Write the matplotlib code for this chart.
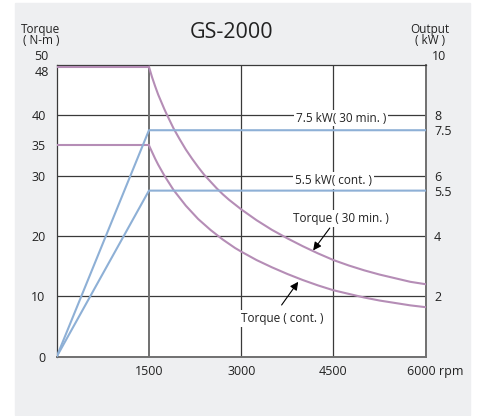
import matplotlib.pyplot as plt
import matplotlib.transforms as mtransforms
from matplotlib.patches import Rectangle

plt.rcParams["font.family"] = ["Open Sans", "DejaVu Sans"]

# Speed / torque / output data for the GS-2000 spindle
rpm_flat = [0, 1500]
torque_30min_flat = [48, 48]
torque_cont_flat = [35, 35]

rpm_curve = [1500, 1550, 1600, 1650, 1700, 1750, 1800, 1900, 2000, 2100, 2200, 2300,
             2400, 2500, 2600, 2700, 2800, 2900, 3000, 3250, 3500, 3750, 4000, 4250,
             4500, 4750, 5000, 5250, 5500, 5750, 6000]
torque_30min_curve = [48.0, 46.3, 44.8, 43.4, 42.2, 41.0, 39.9, 37.8, 36.0, 34.3, 32.8, 31.4,
                      30.1, 29.0, 27.9, 26.9, 26.0, 25.2, 24.4, 22.6, 21.0, 19.6, 18.3, 17.1,
                      16.0, 15.1, 14.3, 13.6, 13.0, 12.4, 12.0]
torque_cont_curve = [35.0, 33.9, 32.8, 31.8, 30.9, 30.0, 29.2, 27.6, 26.3, 25.0, 23.9, 22.8,
                     21.9, 21.0, 20.2, 19.4, 18.7, 18.0, 17.4, 16.0, 14.8, 13.7, 12.7, 11.8,
                     11.0, 10.4, 9.8, 9.3, 8.9, 8.5, 8.2]

rpm_output = [0, 1500, 6000]
output_30min = [0, 7.5, 7.5]
output_cont = [0, 5.5, 5.5]

x_ticks = [1500, 3000, 4500, 6000]
torque_ticks = [0, 10, 20, 30, 35, 40]
output_ticks = [2, 4, 5.5, 6, 7.5, 8]
torque_grid = [10, 20, 30, 40]
rpm_grid = [3000, 4500]

PURPLE = "#b58db6"
BLUE = "#8eb0d6"
DARK = "#3a3a3a"
GRAY = "#707070"
INK = "#222222"
TORQUE_TOP = 48.3

fig = plt.figure(figsize=(4.83, 4.16), dpi=100)
fig.patches.append(Rectangle((15 / 483, 1 / 416), 455 / 483, 412 / 416,
                             transform=fig.transFigure, color="#eeeff1", zorder=-1))

ax = fig.add_axes([56.7 / 483, 59.3 / 416, 369 / 483, 291.7 / 416])
ax.set_facecolor("white")
ax.set_xlim(0, 6000)
ax.set_ylim(0, TORQUE_TOP)

for y in torque_grid:
    ax.axhline(y, color=DARK, lw=0.9, zorder=1)
for x in rpm_grid:
    ax.axvline(x, color=DARK, lw=0.9, zorder=1)
ax.axvline(1500, color=GRAY, lw=1.4, zorder=1)

for side in ("left", "top"):
    ax.spines[side].set_color(DARK)
    ax.spines[side].set_linewidth(0.9)
for side in ("right", "bottom"):
    ax.spines[side].set_color(GRAY)
    ax.spines[side].set_linewidth(1.4)

ax.plot(rpm_flat, torque_30min_flat, color=PURPLE, lw=1.5, zorder=3)
ax.plot(rpm_flat, torque_cont_flat, color=PURPLE, lw=1.5, zorder=3)
ax.plot(rpm_curve, torque_30min_curve, color=PURPLE, lw=1.5, zorder=3)
ax.plot(rpm_curve, torque_cont_curve, color=PURPLE, lw=1.5, zorder=3)

ax.set_xticks(x_ticks)
ax.set_xticklabels([str(v) for v in x_ticks[:-1]] + ["6000 rpm"])
ax.set_yticks(torque_ticks)
ax.set_yticklabels([str(v) for v in torque_ticks])
ax.tick_params(axis="both", length=0, labelsize=9, colors=INK)
ax.tick_params(axis="x", pad=6)
ax.tick_params(axis="y", pad=8)

# "6000" sits on its gridline, the unit hangs to the right
last = ax.get_xticklabels()[-1]
last.set_horizontalalignment("left")
last.set_transform(last.get_transform()
                   + mtransforms.ScaledTranslation(-0.19, 0, fig.dpi_scale_trans))

# labels crowded at the top of the left scale
ax.annotate("48", xy=(0, 48), xycoords=("axes fraction", "data"), xytext=(-8, -6),
            textcoords="offset pixels", ha="right", va="center", fontsize=9, color=INK)
ax.annotate("50", xy=(0, 1), xycoords="axes fraction", xytext=(-8, 8),
            textcoords="offset pixels", ha="right", va="center", fontsize=9, color=INK)

ax2 = ax.twinx()
ax2.set_ylim(0, TORQUE_TOP / 5)
ax2.plot(rpm_output, output_30min, color=BLUE, lw=1.5, zorder=3)
ax2.plot(rpm_output, output_cont, color=BLUE, lw=1.5, zorder=3)
ax2.set_yticks(output_ticks)
ax2.set_yticklabels([f"{v:g}" for v in output_ticks])
ax2.tick_params(axis="y", length=0, labelsize=9, colors=INK, pad=6)
for side in ("left", "top", "right", "bottom"):
    ax2.spines[side].set_visible(False)
ax2.annotate("10", xy=(1, 1), xycoords="axes fraction", xytext=(6, 8),
             textcoords="offset pixels", ha="left", va="center", fontsize=9, color=INK)

box = dict(boxstyle="square,pad=0.15", fc="white", ec="none")
ax2.text(4630, 7.9, "7.5 kW( 30 min. )", ha="center", va="center", fontsize=8.5,
         color=INK, bbox=box, zorder=5)
ax2.text(4500, 5.83, "5.5 kW( cont. )", ha="center", va="center", fontsize=8.5,
         color=INK, bbox=box, zorder=5)

ax2.text(4616, 22.9 / 5, "Torque ( 30 min. )", ha="center", va="center", fontsize=8.5,
         color=INK, bbox=box, zorder=5)
ax2.text(3662, 6.36 / 5, "Torque ( cont. )", ha="center", va="center", fontsize=8.5,
         color=INK, bbox=box, zorder=5)
arrow = dict(arrowstyle="-|>", color="black", lw=0.8, mutation_scale=12,
             shrinkA=0, shrinkB=0)
ax2.annotate("", xy=(4170, 17.6 / 5), xytext=(4440, 21.3 / 5), arrowprops=arrow, zorder=6)
ax2.annotate("", xy=(3927, 12.4 / 5), xytext=(3657, 8.56 / 5), arrowprops=arrow, zorder=6)

fig.text(232 / 483, 1 - 33 / 416, "GS-2000", ha="center", va="center", fontsize=15.5, color=INK)
fig.text(41 / 483, 1 - 35 / 416, "Torque\n( N-m )", ha="center", va="center", fontsize=8.5,
         linespacing=0.8, color=INK)
fig.text(430 / 483, 1 - 35 / 416, "Output\n( kW )", ha="center", va="center", fontsize=8.5,
         linespacing=0.8, color=INK)

fig.savefig("out.png", dpi=100)
